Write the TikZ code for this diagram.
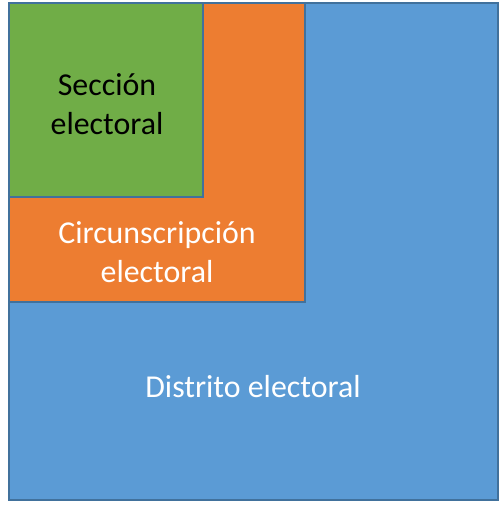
\documentclass[tikz,border=0pt]{standalone}
\usepackage{fontspec}
\setmainfont{Carlito}
\usetikzlibrary{positioning}
\definecolor{distblue}{HTML}{5B9BD5}
\definecolor{circorange}{HTML}{ED7D31}
\definecolor{secgreen}{HTML}{70AD47}
\definecolor{edgeblue}{HTML}{41719C}

\begin{document}
\begin{tikzpicture}[x=1bp,y=-1bp,
    region/.style={draw=edgeblue,line width=1.6bp},
    label/.style={align=center,font=\fontsize{32}{39}\selectfont}]
     \useasboundingbox (0,0) rectangle (500,505);
     % the three nested areas
     \draw[region,fill=distblue] (9,3) rectangle (498,500);
     \draw[region,fill=circorange] (9,3) rectangle (305,302);
     \draw[region,fill=secgreen] (9,3) rectangle (203,197);
     % their names
     \node[label,text=white] (distrito) at (253,387) {Distrito electoral};
     \node[label,text=white] (circ) at (157,252) {Circunscripción\\electoral};
     \node[label,text=black] (seccion) at (107,104) {Sección\\electoral};
\end{tikzpicture}
\end{document}
